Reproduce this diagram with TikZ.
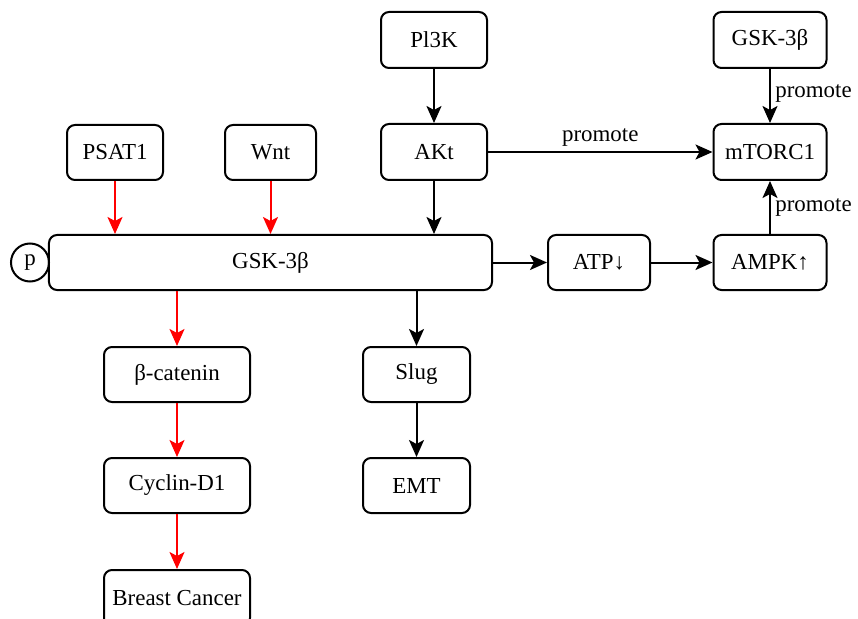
\documentclass[tikz,border=0pt]{standalone}
\usepackage{fontspec}
\setmainfont{Liberation Serif}
\usetikzlibrary{arrows.meta}
\begin{document}
\begin{tikzpicture}[x=1bp,y=-1bp,
  box/.style={draw=black,line width=2bp,rounded corners=8bp,inner sep=0pt,font=\fontsize{23}{26}\selectfont},
  arr/.style={line width=2bp,-{Stealth[length=17bp,width=15bp,inset=4bp]}},
  redarr/.style={line width=2bp,draw=red,-{Stealth[length=17bp,width=15bp,inset=4bp,color=red]}},
  lbl/.style={font=\fontsize{23}{26}\selectfont}]
\useasboundingbox (0,0) rectangle (858,619);
\clip (0,0) rectangle (858,619);
\node[box,minimum width=106bp,minimum height=56bp] (pi3k) at (434,40) {Pl3K};
\node[box,minimum width=106bp,minimum height=56bp] (akt) at (434,152) {AKt};
\node[box,minimum width=113bp,minimum height=56bp] (gskt) at (770,40) {GSK-3β};
\node[box,minimum width=113bp,minimum height=56bp] (mtor) at (770,152) {mTORC1};
\node[box,minimum width=96bp,minimum height=55bp] (psat) at (115,152.5) {PSAT1};
\node[box,minimum width=91bp,minimum height=55bp] (wnt) at (270.5,152.5) {Wnt};
\node[box,minimum width=443bp,minimum height=55bp] (gsk) at (270.5,262.5) {GSK-3β};
\node[draw,circle,line width=2bp,minimum size=38bp,inner sep=0pt,font=\fontsize{23}{26}\selectfont] (p) at (30,262.5) {p};
\node[box,minimum width=102bp,minimum height=55bp] (atp) at (599,262.5) {ATP↓};
\node[box,minimum width=113bp,minimum height=55bp] (ampk) at (770,262.5) {AMPK↑};
\node[box,minimum width=146bp,minimum height=55bp] (bcat) at (177,374.5) {β-catenin};
\node[box,minimum width=107bp,minimum height=55bp] (slug) at (416.5,374.5) {Slug};
\node[box,minimum width=146bp,minimum height=55bp] (cyc) at (177,485.5) {Cyclin-D1};
\node[box,minimum width=107bp,minimum height=55bp] (emt) at (416.5,485.5) {EMT};
\node[box,minimum width=146bp,minimum height=56bp] (bc) at (177,598) {Breast Cancer};
% black arrows
\draw[arr] (pi3k) -- (akt);
\draw[arr] (akt.south) -- (akt.south |- gsk.north);
\draw[arr] (akt) -- node[lbl,above,pos=0.5,yshift=1bp] {promote} (mtor);
\draw[arr] (gskt) -- node[lbl,right,pos=0.45,xshift=1bp] {promote} (mtor);
\draw[arr] (ampk) -- node[lbl,right,pos=0.5,xshift=1bp] {promote} (mtor);
\draw[arr] (gsk.east |- atp) -- (atp);
\draw[arr] (atp) -- (ampk);
\draw[arr] (slug.north |- gsk.south) -- (slug);
\draw[arr] (slug) -- (emt);
% red arrows
\draw[redarr] (psat) -- (psat |- gsk.north);
\draw[redarr] (wnt.south) -- (wnt.south |- gsk.north);
\draw[redarr] (bcat.north |- gsk.south) -- (bcat);
\draw[redarr] (bcat) -- (cyc);
\draw[redarr] (cyc) -- (bc);
\end{tikzpicture}
\end{document}
